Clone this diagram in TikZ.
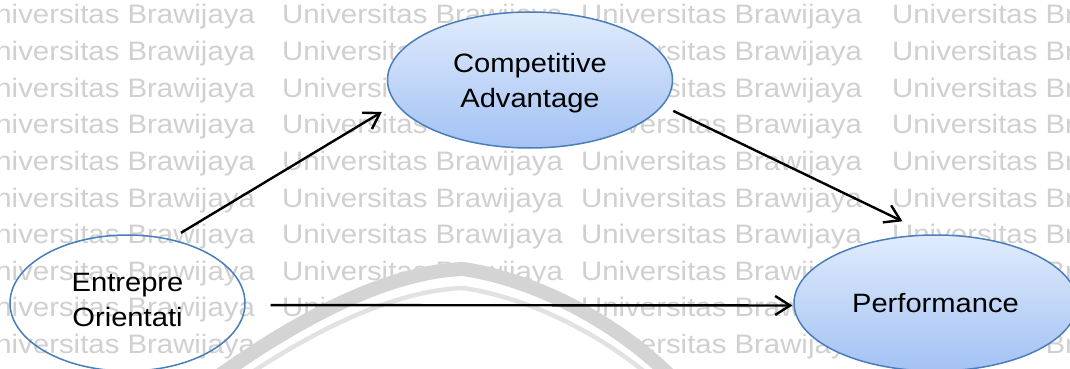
\documentclass[tikz,border=0pt]{standalone}
\usepackage{fontspec}
\setmainfont{Liberation Sans}[FakeStretch=1.1]
\usetikzlibrary{arrows.meta,shapes.geometric}

\definecolor{wmark}{RGB}{208,208,208}
\definecolor{logogray}{RGB}{212,212,212}
\definecolor{logolight}{RGB}{226,226,226}
\definecolor{ellborder}{RGB}{74,126,187}
\definecolor{elltop}{RGB}{224,235,252}
\definecolor{ellbottom}{RGB}{163,194,244}

\begin{document}
\begin{tikzpicture}[x=1pt,y=-1pt,
  wm/.style={anchor=base west, text=wmark, inner sep=0pt,
    font=\fontsize{26.7}{30}\selectfont},
  construct/.style={ellipse, draw=ellborder, line width=1.5pt, inner sep=0pt,
    align=center, font=\fontsize{26.5}{35}\selectfont},
  filledconstruct/.style={construct, top color=elltop, bottom color=ellbottom},
  link/.style={black, line width=2.4pt,
    -{Straight Barb[length=15pt,width=19pt,line width=2.4pt]}},
]
\useasboundingbox (0,0) rectangle (1070,369);
\fill[white] (0,0) rectangle (1070,369);

% background watermark rows
\foreach \r in {0,...,9} {
  \foreach \c [count=\i] in {-26,282,581,892} {
    \node[wm] (wm-\r-\i) at (\c, {24+36.6*\r}) {Universitas Brawijaya};
  }
}

% faint university emblem arch
\fill[white] (463,262) .. controls (380,265) and (280,322) .. (190,390)
  -- (690,390) .. controls (630,320) and (538,273) .. (463,262) -- cycle;
\draw[logolight, line width=4.5pt]
  (463,288) .. controls (380,291) and (280,348) .. (190,416);
\draw[logolight, line width=4.5pt]
  (463,288) .. controls (538,299) and (630,346) .. (690,416);
\draw[logogray, line width=14pt, line join=round]
  (190,397) .. controls (280,329) and (380,272) .. (463,269)
  .. controls (538,280) and (630,327) .. (690,397);

% constructs
\node[construct, minimum width=235pt, minimum height=136pt] (EO) at (127.5,303)
  {Entrepre\\Orientati\rule[-6pt]{0pt}{0pt}};
\node[filledconstruct, minimum width=285pt, minimum height=136pt] (CA) at (530,80)
  {\rule{0pt}{25pt}Competitive\\Advantage};
\node[filledconstruct, minimum width=283pt, minimum height=136pt] (PF) at (935.5,303)
  {Performance};

% paths
\draw[link, shorten <=12pt, shorten >=16pt] (EO.56) -- (CA.190);
\draw[link, shorten <=11.6pt, shorten >=30pt] (CA.349) -- (PF.95);
\draw[link, shorten <=25pt, shorten >=1pt] (EO.-1.5) -- (PF.181.2);
\end{tikzpicture}
\end{document}
